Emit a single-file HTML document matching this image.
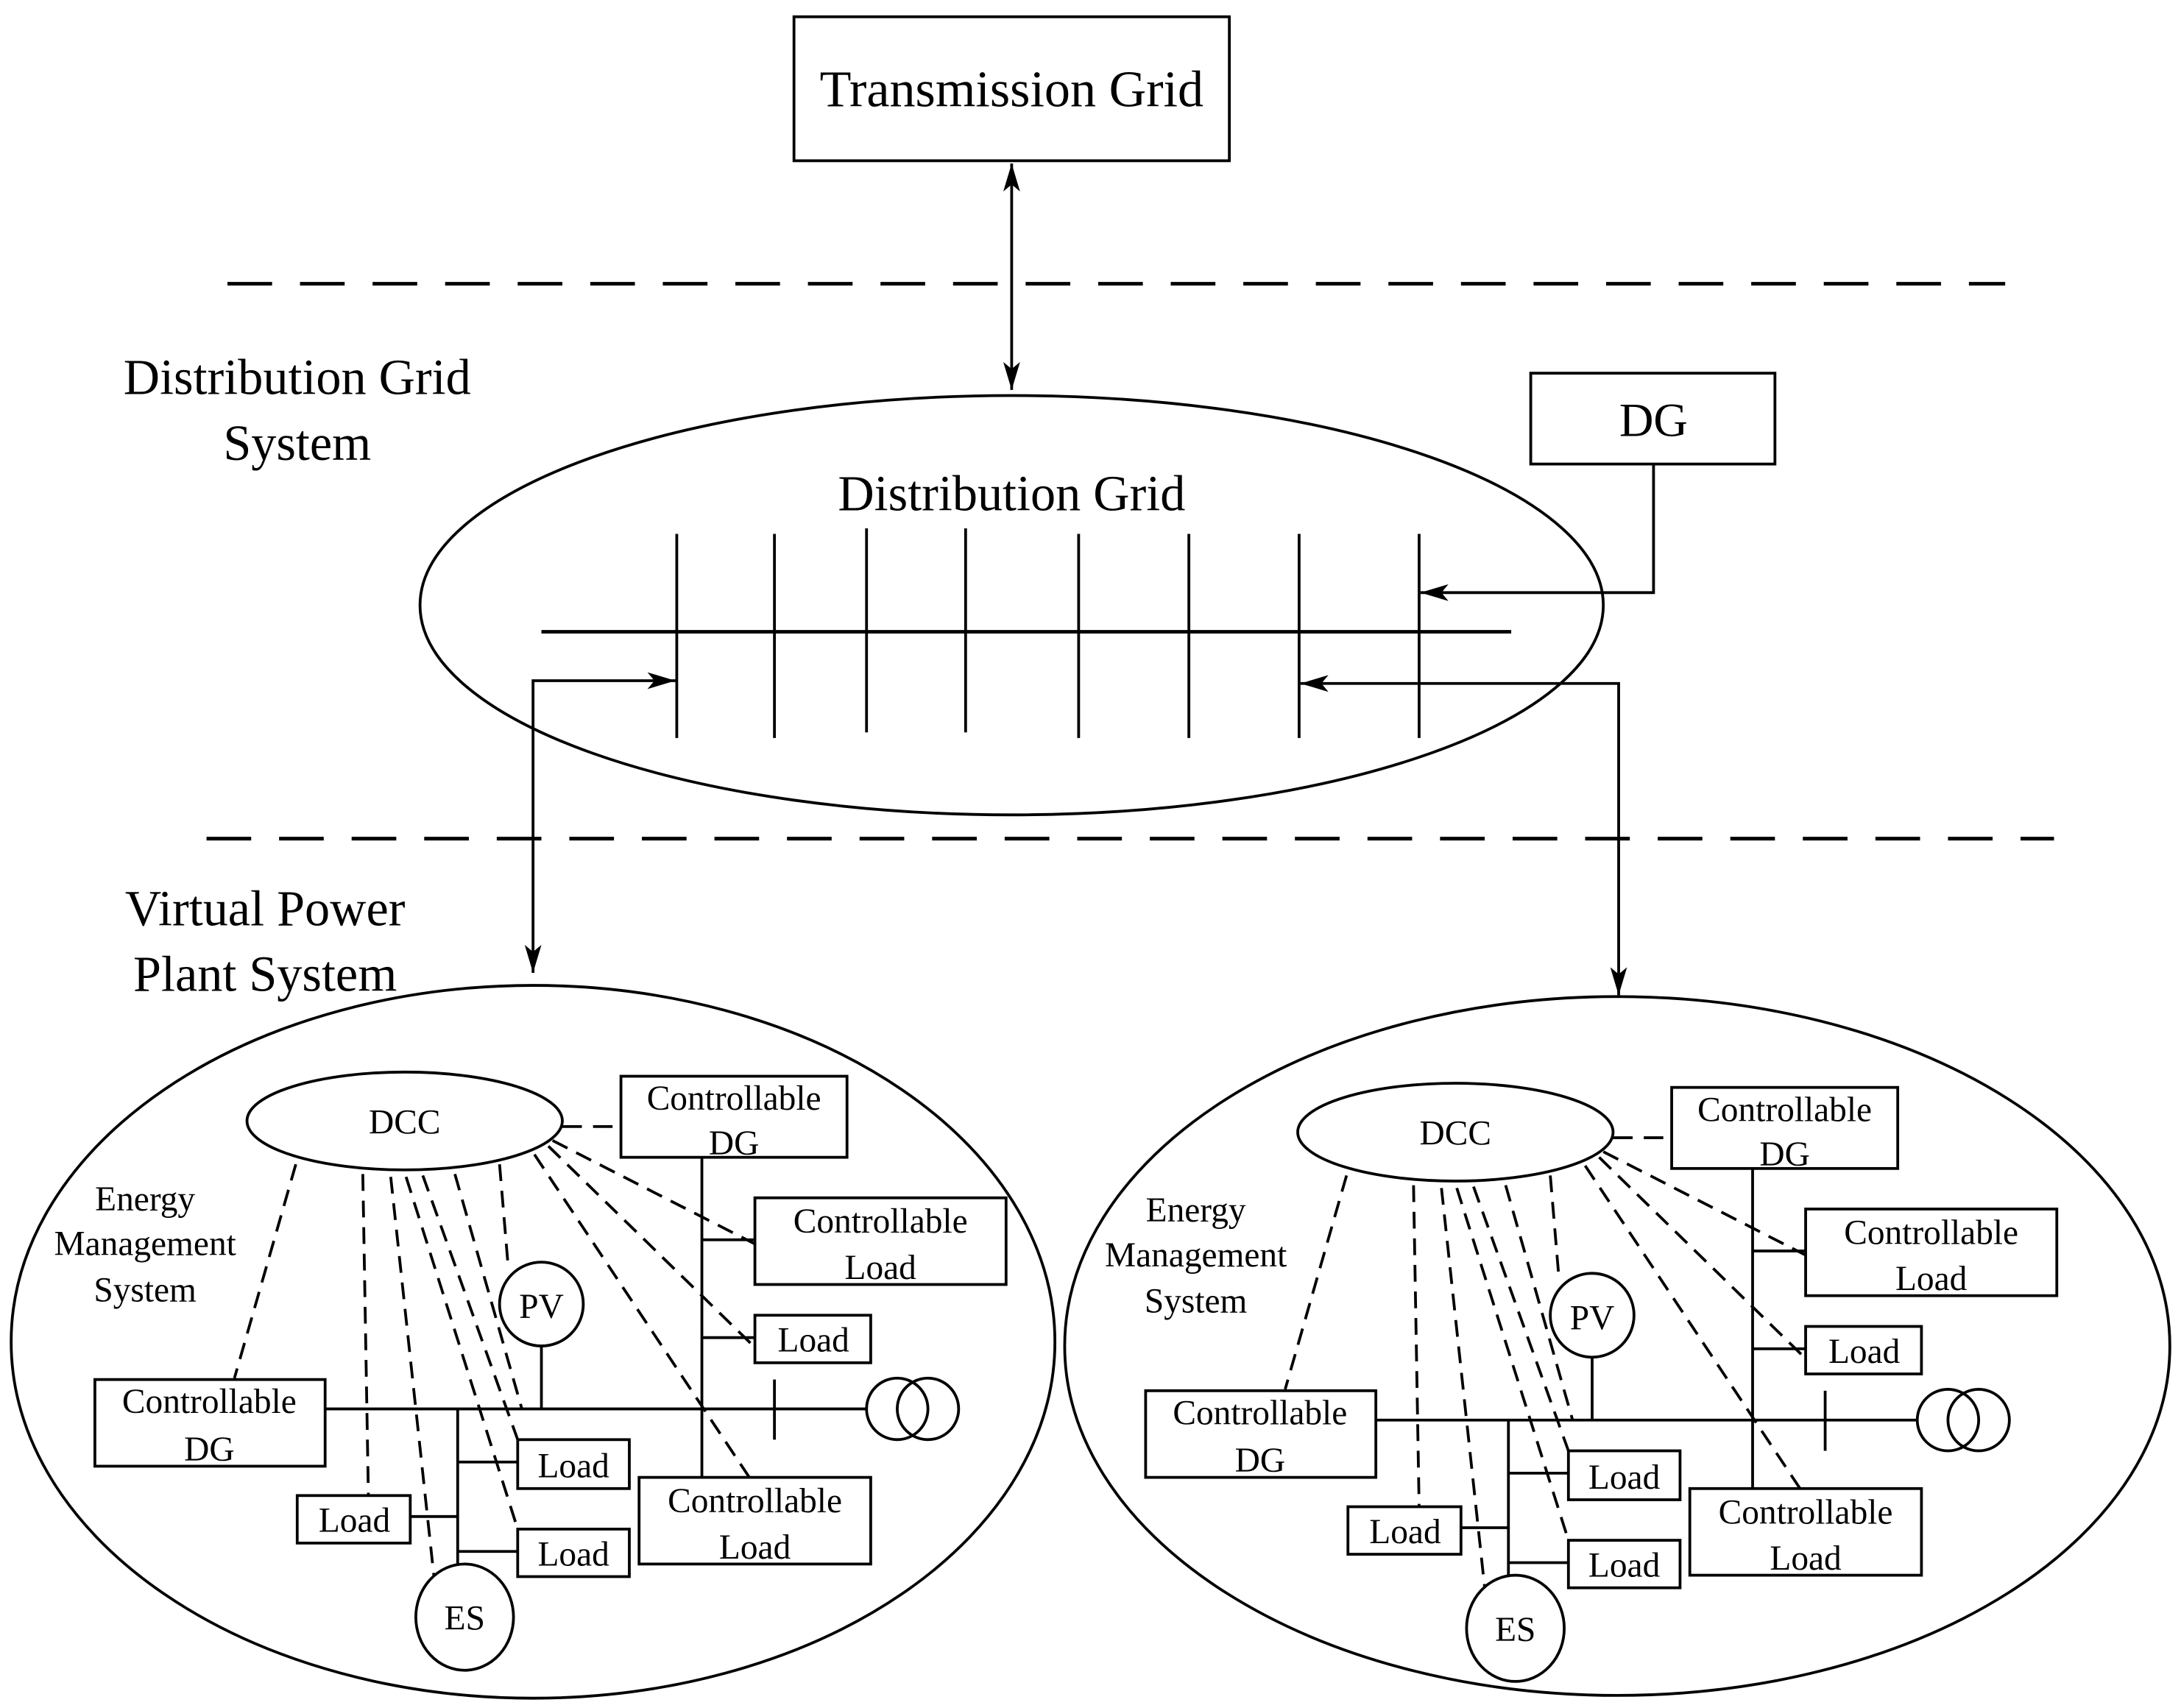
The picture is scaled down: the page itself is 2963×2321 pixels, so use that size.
<!DOCTYPE html>
<html><head><meta charset="utf-8"><style>
html,body{margin:0;padding:0;background:#fff;}
svg{display:block;}
text{font-family:"Liberation Serif",serif;fill:#000;}
</style></head><body>
<svg width="2963" height="2321" viewBox="0 0 1563 1222" preserveAspectRatio="none" xmlns="http://www.w3.org/2000/svg">
<defs>
<marker id="ah" viewBox="0 0 20 12" refX="20" refY="6" markerWidth="20" markerHeight="12" markerUnits="userSpaceOnUse" orient="auto-start-reverse">
<path d="M0,0 L20,6 L0,12 L5,6 Z" fill="#000"/>
</marker>
</defs>
<g fill="none" stroke="#000" stroke-width="2">
<rect x="569" y="12" width="312" height="103"/>
<line x1="725" y1="117" x2="725" y2="279" marker-start="url(#ah)" marker-end="url(#ah)"/>
<line x1="163" y1="203" x2="1437" y2="203" stroke-dasharray="32,20" stroke-width="2.6"/>
<line x1="148" y1="600" x2="1472" y2="600" stroke-dasharray="32,20" stroke-width="2.6"/>
<rect x="1097" y="267" width="175" height="65"/>
<ellipse cx="725" cy="433" rx="424" ry="150"/>
<line x1="388" y1="452" x2="1083" y2="452" stroke-width="2.5"/>
<line x1="485" y1="382" x2="485" y2="528"/>
<line x1="555" y1="382" x2="555" y2="528"/>
<line x1="621" y1="378" x2="621" y2="524"/>
<line x1="692" y1="378" x2="692" y2="524"/>
<line x1="773" y1="382" x2="773" y2="528"/>
<line x1="852" y1="382" x2="852" y2="528"/>
<line x1="931" y1="382" x2="931" y2="528"/>
<line x1="1017" y1="382" x2="1017" y2="528"/>
<polyline points="1185,332 1185,424 1018,424" marker-end="url(#ah)"/>
<polyline points="382,696 382,487 484,487" marker-start="url(#ah)" marker-end="url(#ah)"/>
<polyline points="1160,712 1160,489 932,489" marker-start="url(#ah)" marker-end="url(#ah)"/>
<ellipse cx="382" cy="960" rx="374" ry="255"/>
<ellipse cx="1159" cy="963" rx="396" ry="250"/>
</g>
<text x="725" y="76" font-size="37" text-anchor="middle">Transmission Grid</text>
<text x="213" y="282" font-size="36" text-anchor="middle">Distribution Grid</text>
<text x="213" y="329" font-size="36" text-anchor="middle">System</text>
<text x="1185" y="312" font-size="34" text-anchor="middle">DG</text>
<text x="725" y="365" font-size="36" text-anchor="middle">Distribution Grid</text>
<text x="190" y="662" font-size="36" text-anchor="middle">Virtual Power</text>
<text x="190" y="709" font-size="36" text-anchor="middle">Plant System</text>

<g id="vpp">
<g fill="none" stroke="#000" stroke-width="2">
<ellipse cx="290" cy="802" rx="113" ry="35"/>
<rect x="445" y="770" width="162" height="58"/>
<rect x="541" y="857" width="180" height="62"/>
<rect x="541" y="941" width="83" height="34"/>
<rect x="68" y="987" width="165" height="62"/>
<rect x="371" y="1030" width="80" height="35"/>
<rect x="213" y="1070" width="81" height="34"/>
<rect x="371" y="1094" width="80" height="34"/>
<rect x="458" y="1057" width="166" height="62"/>
<circle cx="388" cy="933" r="30"/>
<ellipse cx="333" cy="1157" rx="35" ry="38"/>
<circle cx="643" cy="1008" r="22"/>
<circle cx="665" cy="1008" r="22"/>
<line x1="503" y1="828" x2="503" y2="1057"/>
<line x1="503" y1="887" x2="541" y2="887"/>
<line x1="503" y1="957" x2="541" y2="957"/>
<line x1="233" y1="1008" x2="621" y2="1008"/>
<line x1="555" y1="987" x2="555" y2="1030"/>
<line x1="388" y1="963" x2="388" y2="1008"/>
<line x1="328" y1="1008" x2="328" y2="1120"/>
<line x1="328" y1="1046" x2="371" y2="1046"/>
<line x1="294" y1="1085" x2="328" y2="1085"/>
<line x1="328" y1="1110" x2="371" y2="1110"/>
<g stroke-dasharray="12,7">
<line x1="403" y1="806" x2="445" y2="806" stroke-dasharray="14,8"/>
<line x1="212" y1="833" x2="168" y2="986"/>
<line x1="260" y1="840" x2="264" y2="1070"/>
<line x1="280" y1="842" x2="311" y2="1128"/>
<line x1="291" y1="842" x2="371" y2="1094"/>
<line x1="303" y1="841" x2="371" y2="1030"/>
<line x1="326" y1="840" x2="374" y2="1008"/>
<line x1="358" y1="833" x2="364" y2="904"/>
<line x1="383" y1="826" x2="537" y2="1057"/>
<line x1="393" y1="820" x2="541" y2="964"/>
<line x1="396" y1="816" x2="541" y2="890"/>
</g>
</g>
<g font-size="25" text-anchor="middle">
<text x="290" y="811">DCC</text>
<text x="526" y="794">Controllable</text>
<text x="526" y="826">DG</text>
<text x="631" y="882">Controllable</text>
<text x="631" y="915">Load</text>
<text x="583" y="967">Load</text>
<text x="150" y="1011">Controllable</text>
<text x="150" y="1045">DG</text>
<text x="411" y="1057">Load</text>
<text x="254" y="1096">Load</text>
<text x="411" y="1120">Load</text>
<text x="541" y="1082">Controllable</text>
<text x="541" y="1115">Load</text>
<text x="388" y="943">PV</text>
<text x="333" y="1166">ES</text>
<text x="104" y="866">Energy</text>
<text x="104" y="898">Management</text>
<text x="104" y="931">System</text>
</g>
</g>
<use href="#vpp" transform="translate(753,8)"/>
</svg>
</body></html>
